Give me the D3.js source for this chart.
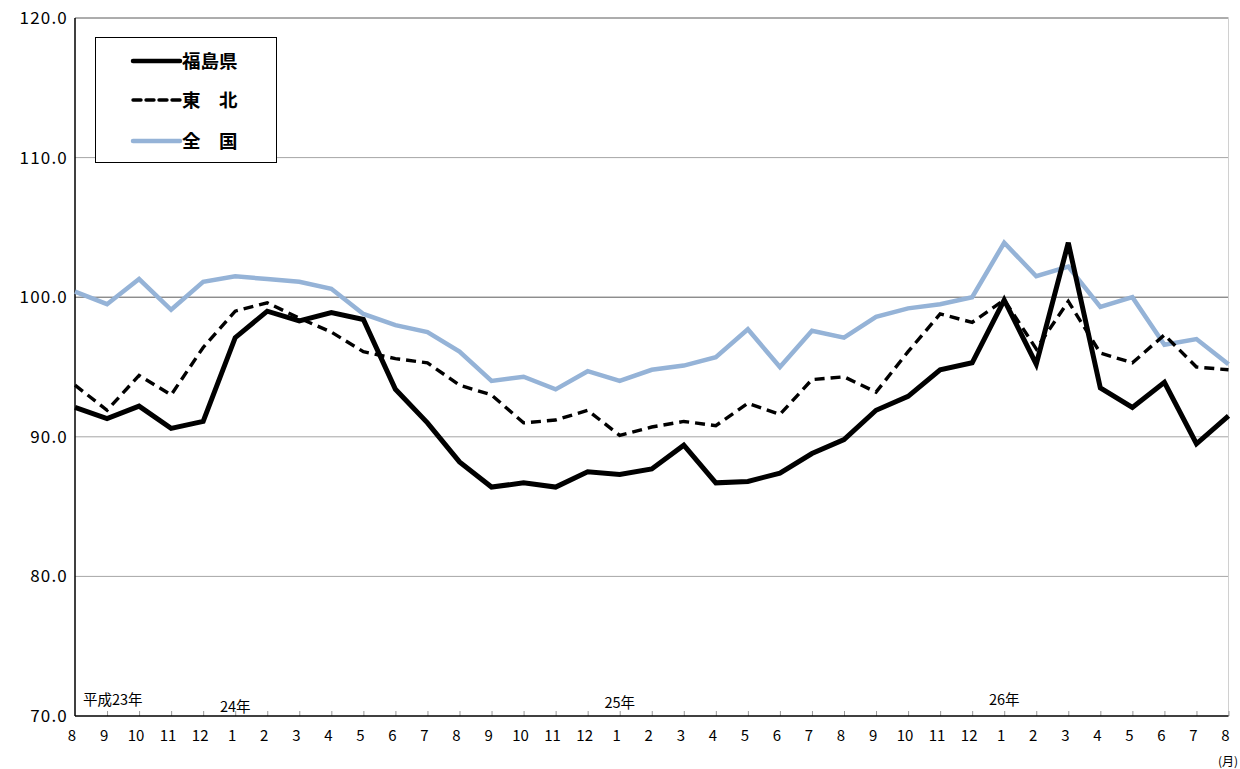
<!DOCTYPE html>
<html><head><meta charset="utf-8">
<script src="https://cdn.jsdelivr.net/npm/d3@7"></script>
<style>body{margin:0;background:#fff}svg{display:block}text{font-family:"Noto Sans CJK JP","Noto Sans",sans-serif}</style>
</head><body><svg id="c" width="1240" height="769"></svg>
<script>
const months = ["8","9","10","11","12","1","2","3","4","5","6","7","8","9","10","11","12","1","2","3","4","5","6","7","8","9","10","11","12","1","2","3","4","5","6","7","8"];
const fukushima = [92.1,91.3,92.2,90.6,91.1,97.1,99.0,98.3,98.9,98.4,93.4,91.0,88.2,86.4,86.7,86.4,87.5,87.3,87.7,89.4,86.7,86.8,87.4,88.8,89.8,91.9,92.9,94.8,95.3,99.8,95.2,103.9,93.5,92.1,93.9,89.5,91.5];
const tohoku = [93.7,91.9,94.4,93.0,96.4,99.0,99.6,98.5,97.5,96.1,95.6,95.3,93.7,93.0,91.0,91.2,91.9,90.1,90.7,91.1,90.8,92.4,91.6,94.1,94.3,93.2,96.1,98.8,98.2,99.8,96.3,99.7,96.0,95.3,97.3,95.0,94.8];
const zenkoku = [100.4,99.5,101.3,99.1,101.1,101.5,101.3,101.1,100.6,98.8,98.0,97.5,96.1,94.0,94.3,93.4,94.7,94.0,94.8,95.1,95.7,97.7,95.0,97.6,97.1,98.6,99.2,99.5,100.0,103.9,101.5,102.2,99.3,100.0,96.6,97.0,95.2];
const yTicks = [70,80,90,100,110,120];
const yearLabels = [{t:"平成23年",i:0.25,dy:700},{t:"24年",i:5,dy:707},{t:"25年",i:17,dy:703},{t:"26年",i:29,dy:700}];
const seriesNames = ["福島県","東　北","全　国"];

const svg = d3.select("#c");
const L=75, R=1228.5, T=18, B=716;
const x = d3.scaleLinear().domain([0, months.length-1]).range([L,R]);
const y = d3.scaleLinear().domain([70,120]).range([B,T]);

// gridlines
svg.append("g").selectAll("line").data(yTicks.filter(v=>v>70)).join("line")
  .attr("x1",L).attr("x2",R).attr("y1",d=>y(d)).attr("y2",d=>y(d))
  .attr("stroke",d=>(d===100||d===120)?"#5a5a5a":"#a6a6a6").attr("stroke-width",1);
// right border
svg.append("line").attr("x1",R).attr("x2",R).attr("y1",T).attr("y2",B).attr("stroke","#d0d0d0");

// y axis labels
svg.append("g").selectAll("text").data(yTicks).join("text")
  .attr("x",68).attr("y",d=>y(d)+6).attr("text-anchor","end")
  .attr("font-size",17).attr("letter-spacing",1.2).attr("fill","#000").text(d=>d.toFixed(1));

// x axis
const xAxis = d3.axisBottom(x).tickValues(d3.range(1,months.length)).tickSize(-5).tickFormat("");
const gx = svg.append("g").attr("transform",`translate(0,${B})`).call(xAxis);
gx.select(".domain").remove();
gx.selectAll(".tick line").attr("stroke","#999");
svg.append("g").selectAll("text").data(months).join("text")
  .attr("x",(d,i)=>x(i)-3).attr("y",741).attr("text-anchor","middle")
  .attr("font-size",15).attr("fill","#000").text(d=>d);
// axis lines
svg.append("line").attr("x1",L).attr("x2",R).attr("y1",B).attr("y2",B).attr("stroke","#000").attr("stroke-width",1.5);
svg.append("line").attr("x1",L).attr("x2",L).attr("y1",T).attr("y2",B).attr("stroke","#000").attr("stroke-width",1.5);

// year labels
svg.append("g").selectAll("text").data(yearLabels).join("text")
  .attr("x",d=>x(d.i)).attr("y",d=>d.dy+5).attr("text-anchor",d=>d.i<1?"start":"middle")
  .attr("font-size",14.5).attr("fill","#000").text(d=>d.t);
svg.append("text").attr("x",1238).attr("y",766).attr("text-anchor","end").attr("font-size",12).text("(月)");

// lines
const line = d3.line().x((d,i)=>x(i)).y(d=>y(d)).curve(d3.curveLinear);
svg.append("path").datum(zenkoku).attr("d",line).attr("fill","none").attr("stroke","#95b3d7").attr("stroke-width",4.5).attr("stroke-linejoin","miter");
svg.append("path").datum(tohoku).attr("d",line).attr("fill","none").attr("stroke","#000").attr("stroke-width",3.4).attr("stroke-dasharray","10,6");
svg.append("path").datum(fukushima).attr("d",line).attr("fill","none").attr("stroke","#000").attr("stroke-width",5).attr("stroke-linejoin","miter");

// legend
const lg = svg.append("g");
lg.append("rect").attr("x",95.5).attr("y",37.5).attr("width",181).attr("height",125).attr("fill","#fff").attr("stroke","#000").attr("stroke-width",1);
const styles=[{c:"#000",w:4.5,d:null},{c:"#000",w:3.4,d:"8,5"},{c:"#95b3d7",w:4.5,d:null}];
const ly=[61,100,141];
seriesNames.forEach((n,i)=>{
  lg.append("line").attr("x1",133).attr("x2",180).attr("y1",ly[i]).attr("y2",ly[i])
    .attr("stroke",styles[i].c).attr("stroke-width",styles[i].w).attr("stroke-dasharray",styles[i].d).attr("stroke-linecap","round");
  lg.append("text").attr("x",182).attr("y",ly[i]+6.5).attr("font-size",18.5).attr("font-weight","bold").text(n);
});
</script></body></html>
